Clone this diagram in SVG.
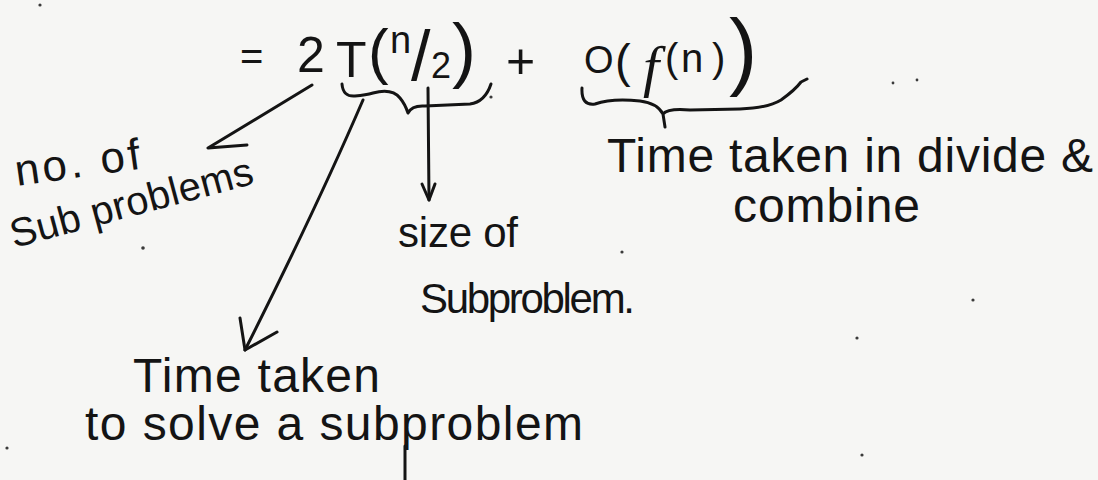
<svg xmlns="http://www.w3.org/2000/svg" width="1098" height="480" viewBox="0 0 1098 480">
  <style>
    .ink { fill: #141414; font-family: "Liberation Sans", "DejaVu Sans", sans-serif; }
    .stroke { fill: none; stroke: #141414; stroke-width: 3; stroke-linecap: round; stroke-linejoin: round; }
    .dot { fill: #3a3a3a; }
  </style>
  <rect x="0" y="0" width="1098" height="480" fill="#f6f6f4"/>

  <g id="equation">
    <text class="ink">
      <tspan x="240" y="70" font-size="40">=</tspan>
      <tspan x="297" y="72" font-size="50">2</tspan>
      <tspan x="336" y="77" font-size="50">T</tspan>
      <tspan x="368" y="72" font-size="62">(</tspan>
      <tspan x="390" y="53" font-size="38">n</tspan>
      <tspan x="411" y="80" font-size="70">/</tspan>
      <tspan x="431" y="78" font-size="36">2</tspan>
      <tspan x="452" y="74" font-size="72">)</tspan>
      <tspan x="506" y="78" font-size="50">+</tspan>
      <tspan x="584" y="73" font-size="38">O</tspan>
      <tspan x="615" y="77" font-size="47">(</tspan>
      <tspan x="643" y="86" font-size="58" font-family="Liberation Serif, serif" font-style="italic">f</tspan>
      <tspan x="665" y="72" font-size="40">(</tspan>
      <tspan x="681" y="72" font-size="40">n</tspan>
      <tspan x="712" y="72" font-size="40">)</tspan>
      <tspan x="729" y="79" font-size="85">)</tspan>
    </text>
  </g>

  <g id="brace-T">
    <path class="stroke" d="M342,84 Q343,97 355,96 Q366,95 373,93 Q392,88 400,98 Q405,104 408,113 M408,113 Q412,105 425,106 L470,104 Q485,102 491,84"/>
    <circle class="dot" cx="491" cy="97" r="1.6"/>
  </g>

  <g id="brace-O">
    <path class="stroke" d="M582,88 Q581,106 595,104 Q612,98 640,101 Q657,103 663,114 L665,127 M663,114 Q668,108 690,110 L740,109 Q768,108 781,100 Q795,90 801,82 L807,79"/>
  </g>

  <g id="connectors">
    <path class="stroke" d="M312,85 L208,148 L247,145"/>
    <path class="stroke" d="M363,100 Q316,209 245,350"/>
    <path class="stroke" d="M240,318 L245,350 L277,332"/>
    <path class="stroke" d="M428,88 L429,200"/>
    <path class="stroke" d="M422,184 L429,200 L435,184"/>
  </g>

  <g id="label-count">
    <text class="ink" x="17" y="186" font-size="44" textLength="126" transform="rotate(-8 17 186)">no. of</text>
    <text class="ink" x="14" y="248" font-size="40" textLength="250" transform="rotate(-15 14 248)">Sub problems</text>
    <circle class="dot" cx="143" cy="248" r="1.8"/>
  </g>

  <g id="label-size">
    <text class="ink" x="398" y="247" font-size="42" textLength="120">size of</text>
    <text class="ink" x="420" y="313" font-size="42" textLength="215">Subproblem.</text>
  </g>

  <g id="label-time-sub">
    <text class="ink" x="133" y="392" font-size="48" textLength="247">Time taken</text>
    <text class="ink" x="85" y="440" font-size="48" textLength="498">to solve a subproblem</text>
    <path class="stroke" d="M405,446 L405,480"/>
  </g>

  <g id="label-divide">
    <text class="ink" x="607" y="172" font-size="48" textLength="486">Time taken in divide &amp;</text>
    <text class="ink" x="733" y="222" font-size="48" textLength="187">combine</text>
  </g>

  <g id="specks">
    <circle class="dot" cx="40" cy="5" r="1.6"/>
    <circle class="dot" cx="7" cy="448" r="1.6"/>
    <circle class="dot" cx="622" cy="252" r="1.6"/>
    <circle class="dot" cx="893" cy="83" r="1.4"/>
    <circle class="dot" cx="917" cy="80" r="1.4"/>
    <circle class="dot" cx="973" cy="300" r="1.6"/>
    <circle class="dot" cx="857" cy="338" r="1.6"/>
    <circle class="dot" cx="862" cy="455" r="1.6"/>
  </g>
</svg>
